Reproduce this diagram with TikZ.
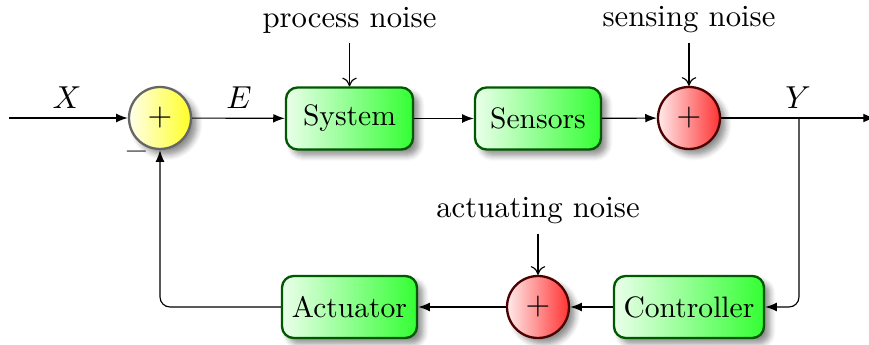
\documentclass[tikz,border=0pt]{standalone}
\usetikzlibrary{shadows,shadows.blur,arrows.meta,positioning}
\begin{document}
\begin{tikzpicture}[x=0.345pt,y=-0.345pt, font=\fontsize{10.6}{13}\selectfont,
  myshadow/.style={blur shadow={shadow xshift=2pt, shadow yshift=-2pt, shadow blur steps=6, shadow blur radius=2pt, shadow opacity=45}},
  blockbox/.style={draw=green!35!black, line width=0.8pt, rounded corners=4pt,
    left color=green!8, right color=green!80, myshadow,
    minimum height=62*0.345pt, inner sep=0pt, font=\fontsize{10.2}{12}\selectfont},
  sumy/.style={circle, draw=black!60, line width=0.8pt, minimum size=62*0.345pt,
    inner sep=0pt, left color=yellow!8, right color=yellow!85, myshadow},
  sumr/.style={circle, draw=red!30!black, line width=0.8pt, minimum size=62*0.345pt,
    inner sep=0pt, left color=red!8, right color=red!80, myshadow},
  siglabel/.style={font=\fontsize{11.2}{13}\selectfont},
  mainarrow/.style={-{Latex[length=4pt,width=3pt]}},
  noisearrow/.style={-{To[length=3pt,width=5pt]}},
]
\useasboundingbox (0,0) rectangle (869,345);
% nodes
\coordinate (in) at (9,118);
\node[sumy] (s1) at (160,118) {$+$};
\node[blockbox, minimum width=127*0.345pt] (sys) at (349.5,118.5) {System};
\node[blockbox, minimum width=126*0.345pt] (sen) at (538,118.5) {Sensors};
\node[sumr] (s2) at (689,118) {$+$};
\coordinate (br) at (799,118);
\coordinate (out) at (875,118);
\node[blockbox, minimum width=150*0.345pt] (ctl) at (689,307) {Controller};
\node[sumr] (s3) at (538,307) {$+$};
\node[blockbox, minimum width=135*0.345pt] (act) at (349.5,307) {Actuator};
\coordinate (lc) at (160,307);
% noise labels
\node (pn) at (349.5,20) {process noise};
\node (sn) at (689,20) {sensing noise};
\node (an) at (538,211) {actuating noise};
% signal labels
\node[siglabel] (X) at (67,98) {$X$};
\node[siglabel] (E) at (239,98) {$E$};
\node[siglabel] (Y) at (798,98) {$Y$};
\node[siglabel, text=black!75] (minus) at (137,152) {$-$};
% connectors
\draw[mainarrow] (in) -- (s1);
\draw[mainarrow] (s1) -- (sys);
\draw[mainarrow] (sys) -- (sen);
\draw[mainarrow] (sen) -- (s2);
\draw[mainarrow] (s2) -- (out);
\draw[mainarrow, rounded corners=10*0.345pt] (br) |- (ctl);
\draw[mainarrow] (ctl) -- (s3);
\draw[mainarrow] (s3) -- (act);
\draw[mainarrow, rounded corners=10*0.345pt] (act) -- (lc) -- (s1);
\draw[noisearrow] (pn) -- (sys);
\draw[noisearrow] (sn) -- (s2);
\draw[noisearrow] (an) -- (s3);
\end{tikzpicture}
\end{document}
